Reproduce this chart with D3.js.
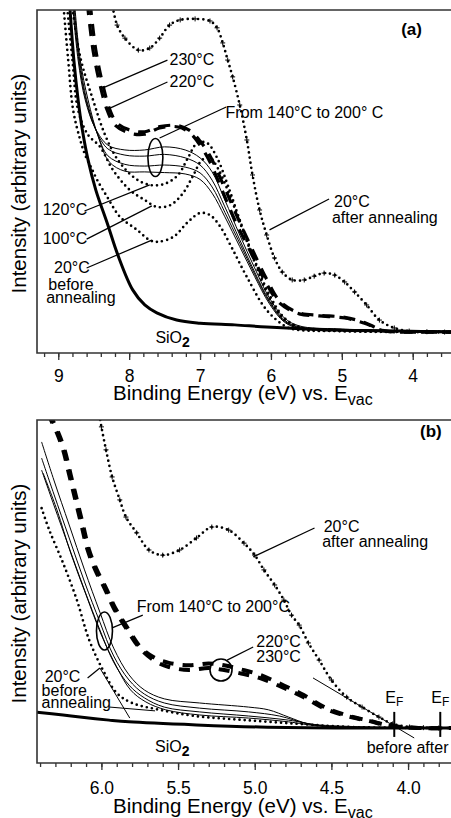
<!DOCTYPE html>
<html><head><meta charset="utf-8">
<script src="https://cdn.jsdelivr.net/npm/d3@7"></script>
<style>
html,body{margin:0;padding:0;background:#fff;}
svg{display:block;font-family:"Liberation Sans",Arial,Helvetica,sans-serif;}
</style></head><body>
<svg id="chart" width="451" height="818"></svg>
<script>
// Photoemission spectra: intensity (arbitrary units, 0-100 of frame height) vs binding energy (eV)

// ---------- panel (a) ----------
const aMajorTicks = [9, 8, 7, 6, 5, 4];
const aSiO2 = [[8.84,102],[8.78,85.4],[8.72,73.8],[8.66,65.0],[8.58,56.3],[8.47,47.5],[8.31,37.9],[8.16,28.6],[7.95,18.4],[7.78,14.0],[7.61,11.7],[7.33,9.6],[7.00,8.7],[6.51,8.2],[6.06,7.6],[5.13,6.7],[4.19,6.4],[3.40,6.1]];
const aBefore20 = [[8.93,102],[8.86,85.4],[8.79,70.8],[8.69,62.1],[8.62,57.7],[8.52,53.4],[8.45,50.4],[8.31,45.5],[8.13,39.7],[7.89,35.9],[7.71,32.9],[7.61,32.4],[7.38,33.8],[7.17,38.2],[7.00,40.8],[6.86,40.2],[6.72,37.0],[6.55,30.6],[6.34,22.2],[6.06,12.5],[5.78,7.6],[5.60,6.7],[5.03,6.4],[3.40,6.1]];
const a100 = [[8.88,102],[8.80,85.4],[8.72,70.8],[8.58,63.6],[8.41,60.1],[8.23,53.4],[7.99,47.5],[7.78,44.6],[7.61,42.6],[7.42,43.1],[7.24,46.6],[7.10,51.6],[6.97,56.3],[6.86,56.9],[6.75,53.9],[6.61,47.5],[6.44,38.2],[6.23,26.5],[6.02,16.0],[5.81,9.6],[5.60,7.3],[5.03,6.4],[3.40,6.1]];
const a120 = [[8.81,102],[8.69,86.3],[8.51,73.8],[8.34,63.6],[8.16,56.3],[7.92,51.0],[7.71,49.0],[7.50,49.3],[7.31,51.9],[7.17,56.9],[7.04,61.2],[6.90,61.2],[6.76,56.9],[6.61,49.0],[6.44,38.8],[6.23,27.1],[6.02,16.9],[5.81,10.2],[5.60,7.6],[5.03,6.7],[3.40,6.1]];
const a140to200 = [
  [[8.80,102],[8.72,85.4],[8.62,73.8],[8.48,65.6],[8.30,60.6],[8.06,59.2],[7.78,59.2],[7.50,60.1],[7.21,59.2],[7.00,56.9],[6.83,52.8],[6.65,44.6],[6.44,34.4],[6.23,24.8],[6.02,16.0],[5.81,10.2],[5.60,7.9],[5.03,7.0],[3.40,6.4]],
  [[8.79,102],[8.71,85.4],[8.61,73.8],[8.47,65.0],[8.30,59.5],[8.06,57.7],[7.78,57.4],[7.50,57.9],[7.21,56.9],[7.00,54.8],[6.83,50.4],[6.65,42.6],[6.44,33.0],[6.23,23.6],[6.02,15.2],[5.81,9.6],[5.60,7.6],[5.03,6.9],[3.40,6.3]],
  [[8.78,102],[8.70,85.4],[8.60,73.8],[8.45,64.0],[8.30,57.5],[8.06,55.0],[7.78,54.5],[7.50,54.8],[7.21,54.2],[7.00,52.5],[6.83,48.4],[6.65,41.0],[6.44,32.0],[6.23,23.0],[6.02,14.8],[5.81,9.3],[5.60,7.4],[5.03,6.8],[3.40,6.2]],
  [[8.77,102],[8.69,85.4],[8.58,73.8],[8.43,62.7],[8.28,55.7],[8.06,53.0],[7.78,52.8],[7.50,52.6],[7.21,52.2],[7.00,50.6],[6.83,46.6],[6.65,39.7],[6.44,31.0],[6.23,22.3],[6.02,14.3],[5.81,9.0],[5.60,7.2],[5.03,6.7],[3.40,6.1]]
];
const a220 = [[8.59,102],[8.51,88.3],[8.41,78.1],[8.31,70.8],[8.20,66.5],[7.99,64.1],[7.78,63.8],[7.57,65.6],[7.31,65.9],[7.14,64.1],[7.00,60.6],[6.86,55.7],[6.69,47.5],[6.51,38.8],[6.30,30.0],[6.09,21.3],[5.88,14.6],[5.60,11.4],[5.32,10.8],[4.96,10.2],[4.68,8.7],[4.40,6.4],[3.91,6.1],[3.40,6.1]];
const a230 = [[8.55,102],[8.47,88.3],[8.37,78.1],[8.27,70.8],[8.17,67.0],[7.99,65.0],[7.78,64.5],[7.57,66.0],[7.31,66.3],[7.14,64.8],[7.00,61.8],[6.86,57.5],[6.66,48.5],[6.47,39.5],[6.27,30.5],[6.06,21.5],[5.86,14.8],[5.60,11.7],[5.32,11.0],[4.96,10.4],[4.68,8.9],[4.40,6.5],[3.91,6.1],[3.40,6.1]];
const aAfter20 = [[8.26,104],[8.17,95.6],[8.06,91.8],[7.87,88.3],[7.71,88.9],[7.57,91.8],[7.43,95.6],[7.28,97.1],[7.07,97.4],[6.86,96.8],[6.76,94.8],[6.68,90.4],[6.61,85.4],[6.54,80.5],[6.44,72.3],[6.34,62.1],[6.26,51.9],[6.16,41.7],[6.06,34.4],[5.95,27.7],[5.84,23.6],[5.70,21.3],[5.53,21.3],[5.39,22.4],[5.25,23.3],[5.10,22.7],[4.96,20.7],[4.82,17.8],[4.65,14.0],[4.47,9.6],[4.26,7.3],[4.05,6.4],[3.80,6.2],[3.55,6.1]];

// ---------- panel (b) ----------
const bMajorTicks = [6.0, 5.5, 5.0, 4.5, 4.0];
const bSiO2 = [[6.42,14.8],[6.25,14.0],[6.14,13.4],[5.95,12.5],[5.82,12.0],[5.38,11.1],[4.97,10.5],[4.38,10.2],[3.70,10.2]];
const bBefore20 = [[6.39,74.3],[6.34,67.9],[6.25,58.3],[6.16,47.5],[6.08,35.9],[5.99,27.1],[5.90,20.4],[5.80,17.5],[5.62,15.5],[5.39,13.7],[5.06,12.5],[4.71,11.4],[4.38,10.5],[3.70,10.2]];
const b140to200 = [
  [[6.39,93.6],[6.31,82.5],[6.21,69.4],[6.11,56.3],[6.01,44.0],[5.92,33.5],[5.82,25.7],[5.72,21.3],[5.59,18.7],[5.36,17.5],[5.04,16.3],[4.91,15.5],[4.78,13.4],[4.65,11.4],[4.45,10.5],[3.70,10.2]],
  [[6.39,88.9],[6.31,78.4],[6.21,65.6],[6.11,52.8],[6.01,41.1],[5.92,31.2],[5.82,24.2],[5.72,20.1],[5.59,17.5],[5.36,16.0],[5.04,14.9],[4.84,13.7],[4.65,11.4],[4.45,10.5],[3.70,10.2]],
  [[6.39,85.4],[6.31,75.2],[6.21,62.7],[6.11,50.4],[6.01,38.8],[5.92,29.4],[5.82,22.7],[5.72,19.0],[5.59,16.3],[5.36,14.9],[5.04,13.7],[4.78,12.5],[4.58,11.1],[3.70,10.2]],
  [[6.38,84.5],[6.29,73.8],[6.20,61.2],[6.10,49.0],[6.00,37.3],[5.90,28.0],[5.81,21.3],[5.71,17.8],[5.58,15.5],[5.36,14.0],[5.04,13.1],[4.78,12.0],[4.58,10.8],[3.70,10.2]]
];
const b220 = [[6.35,102],[6.29,96.2],[6.25,91.3],[6.21,84.0],[6.17,76.7],[6.13,69.4],[6.09,62.1],[6.04,56.3],[5.98,51.0],[5.92,45.2],[5.84,39.4],[5.75,33.5],[5.65,29.7],[5.56,28.0],[5.43,27.1],[5.30,27.7],[5.20,27.1],[5.10,26.2],[4.97,24.8],[4.81,21.9],[4.68,19.2],[4.55,16.0],[4.40,13.7],[4.25,12.2],[4.12,10.8],[3.93,10.2],[3.70,10.2]];
const b230 = [[6.34,102],[6.28,96.2],[6.24,91.3],[6.20,84.0],[6.16,76.7],[6.12,69.4],[6.08,62.1],[6.03,56.3],[5.97,51.0],[5.91,45.2],[5.83,39.4],[5.74,33.5],[5.65,30.6],[5.56,29.2],[5.43,28.5],[5.30,29.0],[5.20,28.5],[5.10,27.4],[4.97,25.8],[4.81,22.6],[4.68,19.8],[4.55,16.4],[4.40,13.9],[4.25,12.3],[4.12,10.9],[3.93,10.2],[3.70,10.2]];
const bAfter20 = [[6.02,103],[6.00,98.0],[5.97,91.3],[5.93,83.4],[5.88,76.7],[5.84,71.7],[5.77,67.1],[5.69,62.1],[5.60,60.6],[5.49,62.1],[5.38,65.6],[5.28,68.8],[5.17,67.9],[5.07,64.1],[5.00,60.6],[4.94,56.3],[4.87,51.9],[4.81,47.5],[4.76,43.1],[4.71,40.2],[4.65,35.0],[4.58,30.0],[4.50,24.2],[4.40,19.2],[4.30,16.3],[4.19,13.4],[4.10,11.4],[3.99,10.5],[3.90,10.3],[3.80,10.2]];
// Fermi-level positions (eV) before and after annealing
const bFermi = [4.09, 3.79];

// ---------- drawing ----------
const svg = d3.select("#chart");
const DOT = {w: 2.7, dash: "0 5.2", cap: "round"};

function lineStyle(sel, st) {
  sel.attr("fill", "none").attr("stroke", "#000").attr("stroke-width", st.w)
     .attr("stroke-dasharray", st.dash || null).attr("stroke-linecap", st.cap || "butt")
     .attr("stroke-linejoin", "round");
}

function addText(g, px, py, parts, opt = {}) {
  const t = g.append("text").attr("x", px).attr("y", py)
    .attr("text-anchor", opt.anchor || "start")
    .attr("font-size", opt.size || 16).attr("font-weight", opt.weight || "normal").attr("fill", "#000");
  parts.forEach(p => {
    if (typeof p === "string") { t.append("tspan").text(p); return; }
    const s = t.append("tspan").text(p.t);
    if (p.size) s.attr("font-size", p.size);
    if (p.dy) s.attr("dy", p.dy);
    if (p.weight) s.attr("font-weight", p.weight);
  });
  return t;
}

function drawPanel(p) {
  const g = svg.append("g");
  const x = d3.scaleLinear().domain(p.xDomain).range([p.left, p.right]);
  const y = d3.scaleLinear().domain([0, 100]).range([p.bottom, p.top]);
  const clipId = "clip-" + p.id;
  svg.append("clipPath").attr("id", clipId).append("rect")
    .attr("x", p.left).attr("y", p.top).attr("width", p.right - p.left).attr("height", p.bottom - p.top);
  const plot = g.append("g").attr("clip-path", `url(#${clipId})`);
  const line = d3.line().x(d => x(d[0])).y(d => y(d[1])).curve(d3.curveCatmullRom.alpha(0.5));

  p.series.forEach(s => {
    lineStyle(plot.append("path").datum(s.data).attr("d", line), s.style);
    if (s.plus) {
      plot.append("g").selectAll("path").data(s.data).join("path")
        .attr("d", d => `M${x(d[0]) - 2.5},${y(d[1])}h5M${x(d[0])},${y(d[1]) - 2.5}v5`)
        .attr("stroke", "#000").attr("stroke-width", 1);
    }
  });

  // straight guide lines, leaders
  (p.segments || []).forEach(sg => {
    g.append("line").attr("x1", x(sg[0][0])).attr("y1", y(sg[0][1]))
      .attr("x2", x(sg[1][0])).attr("y2", y(sg[1][1]))
      .attr("stroke", "#000").attr("stroke-width", sg[2] || 1.2);
  });
  (p.ellipses || []).forEach(e => {
    g.append("ellipse").attr("cx", x(e.c[0])).attr("cy", y(e.c[1])).attr("rx", e.rx).attr("ry", e.ry)
      .attr("fill", "none").attr("stroke", "#000").attr("stroke-width", 1.6);
  });
  (p.texts || []).forEach(t => addText(g, x(t.at[0]), y(t.at[1]), t.parts, t.opt || {}));

  // frame (right side lies outside the view)
  g.append("path").attr("d", `M${p.right + 2},${p.top}H${p.left}V${p.bottom}H${p.right + 2}`)
    .attr("fill", "none").attr("stroke", "#333").attr("stroke-width", 1.6);

  // x axis: minor and major ticks pointing outward
  const minor = g.append("g").attr("transform", `translate(0,${p.bottom})`)
    .call(d3.axisBottom(x).tickValues(p.minor).tickSizeInner(4).tickSizeOuter(0).tickFormat(""));
  const major = g.append("g").attr("transform", `translate(0,${p.bottom})`)
    .call(d3.axisBottom(x).tickValues(p.major).tickSizeInner(7).tickSizeOuter(0)
      .tickPadding(p.tickPad).tickFormat(p.fmt));
  [minor, major].forEach(a => {
    a.select(".domain").remove();
    a.selectAll(".tick line").attr("stroke", "#333").attr("stroke-width", 1.3);
  });
  major.selectAll(".tick text").attr("font-size", 17.5).attr("fill", "#000")
    .attr("font-family", '"Liberation Sans", Arial, sans-serif');

  addText(g, p.left + 76, p.titleY, ["Binding Energy (eV) vs. E", {t: "vac", size: 16, dy: 5}], {size: 20.5});
  addText(g, 0, 0, ["Intensity (arbitrary units)"], {size: 20.5, anchor: "middle"})
    .attr("transform", `translate(26,${(p.top + p.bottom) / 2 + 2}) rotate(-90)`);
}

const deg = s => s + "°C";

drawPanel({
  id: "a", top: 10, bottom: 353, left: 37, right: 451, xDomain: [9.3, 3.46],
  major: aMajorTicks, minor: d3.range(46, 17, -1).map(v => v / 5),
  fmt: d3.format("d"), tickPad: 10, titleY: 400,
  series: [
    {data: aSiO2, style: {w: 3}},
    {data: aBefore20, style: DOT},
    {data: a100, style: DOT},
    {data: a120, style: DOT},
    ...a140to200.map(d => ({data: d, style: {w: 1}})),
    {data: a220, style: {w: 3.2, dash: "12 9"}},
    {data: a230, style: {w: 3.2, dash: "12 9"}},
    {data: aAfter20, style: DOT, plus: true}
  ],
  segments: [
    [[8.37, 77.3], [7.46, 85.4]],
    [[8.27, 71.4], [7.46, 79.0]],
    [[7.57, 62.7], [6.63, 71.7]],
    [[8.63, 41.4], [7.71, 49.0]],
    [[8.60, 33.2], [7.68, 42.9]],
    [[8.60, 24.8], [7.68, 32.9]],
    [[6.02, 35.9], [5.18, 44.9]]
  ],
  ellipses: [{c: [7.63, 57.0], rx: 7.5, ry: 19}],
  texts: [
    {at: [7.43, 84.0], parts: [deg("230")]},
    {at: [7.43, 77.6], parts: [deg("220")]},
    {at: [6.64, 68.5], parts: ["From 140°C to 200° C"]},
    {at: [9.22, 40.2], parts: [deg("120")]},
    {at: [9.22, 31.8], parts: [deg("100")]},
    {at: [9.06, 23.3], parts: [deg("20")]},
    {at: [9.14, 18.4], parts: ["before"]},
    {at: [9.17, 14.6], parts: ["annealing"]},
    {at: [5.11, 42.6], parts: [deg("20")]},
    {at: [5.14, 37.9], parts: ["after annealing"]},
    {at: [7.63, 2.9], parts: ["SiO", {t: "2", size: 14, dy: 4, weight: "bold"}]},
    {at: [3.87, 92.7], parts: ["(a)"], opt: {anchor: "end", weight: "bold", size: 17}}
  ]
});

drawPanel({
  id: "b", top: 420, bottom: 763, left: 37, right: 451, xDomain: [6.42, 3.72],
  major: bMajorTicks, minor: d3.range(64, 37, -1).map(v => v / 10),
  fmt: d3.format(".1f"), tickPad: 12, titleY: 813,
  series: [
    {data: bSiO2, style: {w: 3}},
    {data: bBefore20, style: DOT},
    ...b140to200.map(d => ({data: d, style: {w: 1}})),
    {data: b220, style: {w: 4, dash: "11 9"}},
    {data: b230, style: {w: 4, dash: "11 9"}},
    {data: bAfter20, style: DOT, plus: true}
  ],
  segments: [
    [[5.01, 60.1], [4.61, 68.5]],
    [[5.93, 39.4], [5.73, 43.1]],
    [[5.18, 30.0], [5.01, 33.8]],
    [[6.09, 24.8], [6.01, 27.7]],
    [[5.945, 16.3], [5.65, 15.2], 1],
    [[6.01, 27.7], [5.815, 13.1], 1],
    [[4.62, 24.8], [3.96, 7.3], 1],
    [[bFermi[0], 14.9], [bFermi[0], 7.6], 2],
    [[bFermi[1], 14.9], [bFermi[1], 7.6], 2]
  ],
  ellipses: [{c: [5.98, 38.5], rx: 8, ry: 19}, {c: [5.22, 27.1], rx: 11, ry: 11}],
  texts: [
    {at: [4.55, 67.3], parts: [deg("20")]},
    {at: [4.56, 63.0], parts: ["after annealing"]},
    {at: [5.77, 44.0], parts: ["From 140°C to 200°C"]},
    {at: [4.99, 33.8], parts: [deg("220")]},
    {at: [4.99, 29.4], parts: [deg("230")]},
    {at: [6.37, 23.6], parts: [deg("20")]},
    {at: [6.39, 19.5], parts: ["before"]},
    {at: [6.39, 16.0], parts: ["annealing"]},
    {at: [5.65, 3.2], parts: ["SiO", {t: "2", size: 14, dy: 4, weight: "bold"}]},
    {at: [bFermi[0], 17.5], parts: ["E", {t: "F", size: 12, dy: 3}], opt: {anchor: "middle"}},
    {at: [bFermi[1], 17.5], parts: ["E", {t: "F", size: 12, dy: 3}], opt: {anchor: "middle"}},
    {at: [4.27, 2.9], parts: ["before after"]},
    {at: [3.78, 95.0], parts: ["(b)"], opt: {anchor: "end", weight: "bold", size: 17}}
  ]
});
</script>
</body></html>
